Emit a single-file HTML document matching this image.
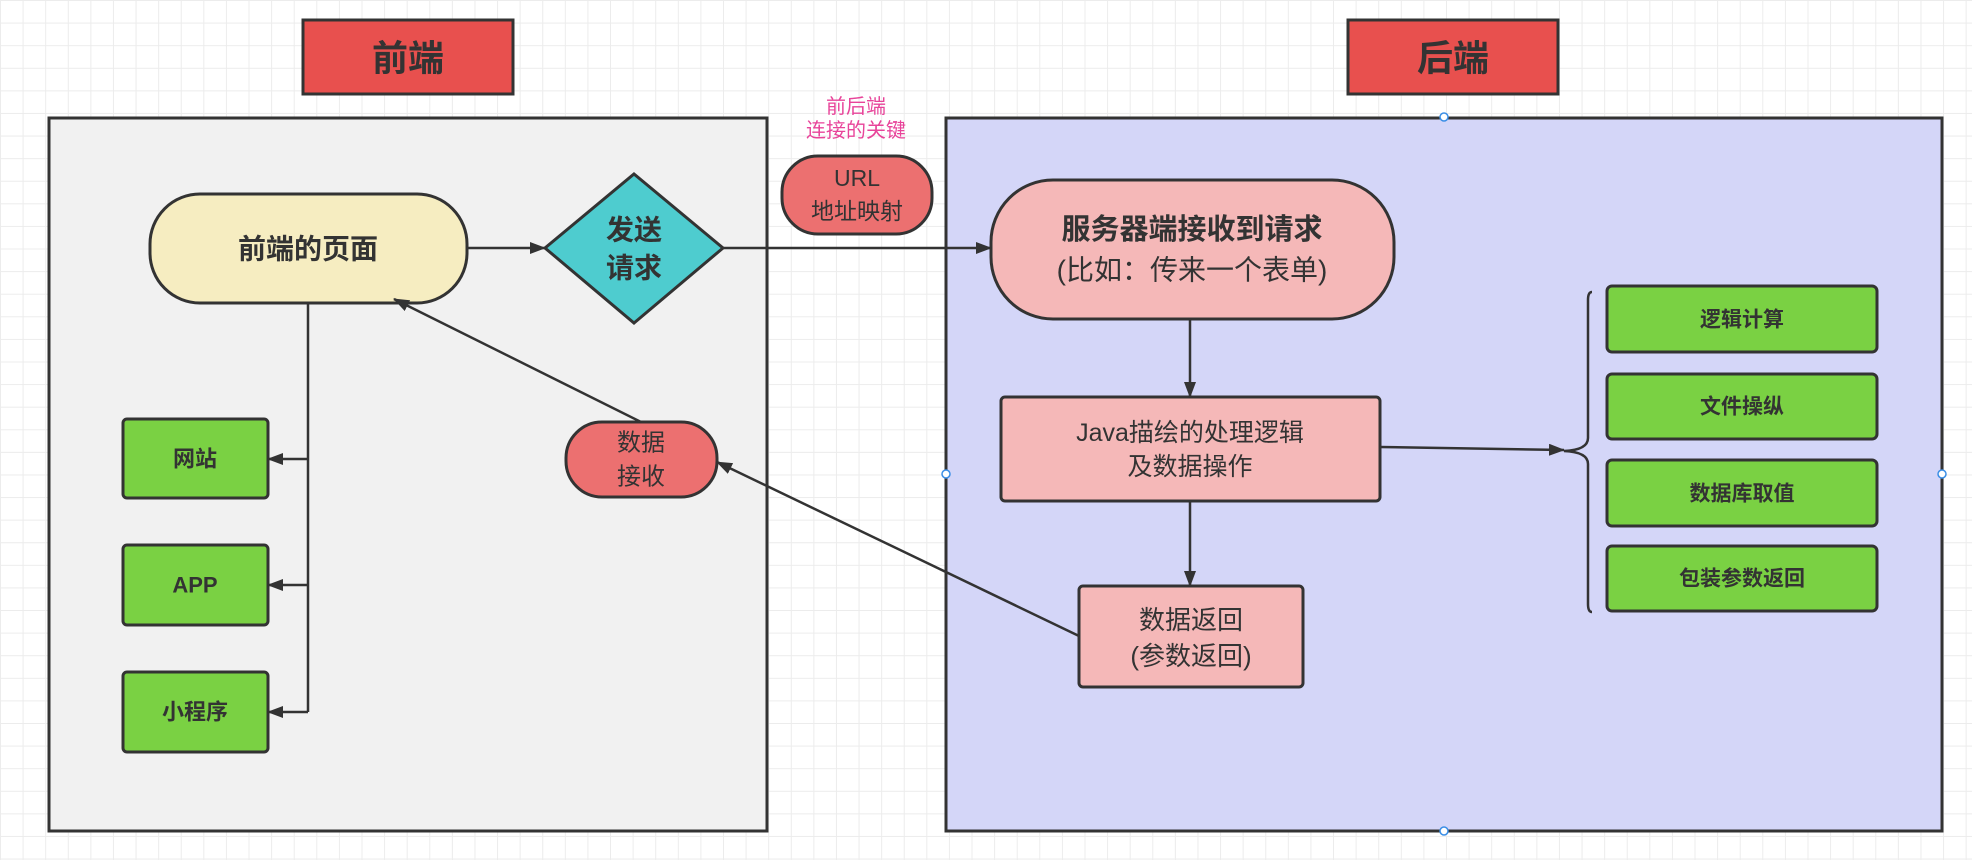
<!DOCTYPE html>
<html><head><meta charset="utf-8"><style>
html,body{margin:0;padding:0;}
body{width:1972px;height:860px;overflow:hidden;background:#fff;
background-image:linear-gradient(#ececec 1px,transparent 1px),linear-gradient(90deg,#ececec 1px,transparent 1px);
background-size:22.6px 22.6px;}
svg{position:absolute;left:0;top:0;}
text{font-family:"Liberation Sans","Noto Sans CJK SC",sans-serif;fill:#333;text-anchor:middle;dominant-baseline:central;}
.b{font-weight:bold;}
</style></head><body>
<svg width="1972" height="860" viewBox="0 0 1972 860">
<defs><marker id="a" markerWidth="16" markerHeight="12" refX="15" refY="6" orient="auto" markerUnits="userSpaceOnUse"><path d="M0,0 L16,6 L0,12 Z" fill="#333"/></marker></defs>
<g stroke="#333" stroke-width="3">
<rect x="303" y="20" width="210" height="74" fill="#e8504e"/>
<rect x="1348" y="20" width="210" height="74" fill="#e8504e"/>
<rect x="49" y="118" width="718" height="713" fill="#f1f1f1"/>
<rect x="946" y="118" width="996" height="713" fill="#d4d6f8"/>
<rect x="150" y="194" width="317" height="109" rx="50" fill="#f6edc1"/>
<polygon points="634,174 723,248 634,323 545,248" fill="#4ecccf"/>
<rect x="782" y="156" width="150" height="78" rx="36" fill="#ec7070"/>
<rect x="991" y="180" width="403" height="139" rx="62" fill="#f5b8b8"/>
<rect x="1001" y="397" width="379" height="104" rx="4" fill="#f5b8b8"/>
<rect x="1079" y="586" width="224" height="101" rx="4" fill="#f5b8b8"/>
<rect x="566" y="422" width="151" height="75" rx="36" fill="#ec7070"/>
<rect x="1607" y="286" width="270" height="66" rx="5" fill="#7ad143"/>
<rect x="1607" y="374" width="270" height="65" rx="5" fill="#7ad143"/>
<rect x="1607" y="460" width="270" height="66" rx="5" fill="#7ad143"/>
<rect x="1607" y="546" width="270" height="65" rx="5" fill="#7ad143"/>
<rect x="123" y="419" width="145" height="79" rx="4" fill="#7ad143"/>
<rect x="123" y="545" width="145" height="80" rx="4" fill="#7ad143"/>
<rect x="123" y="672" width="145" height="80" rx="4" fill="#7ad143"/>
</g>
<g stroke="#333" stroke-width="2.5" fill="none">
<line x1="467" y1="248" x2="545" y2="248" marker-end="url(#a)"/>
<line x1="723" y1="248" x2="991" y2="248" marker-end="url(#a)"/>
<line x1="1190" y1="319" x2="1190" y2="397" marker-end="url(#a)"/>
<line x1="1190" y1="501" x2="1190" y2="586" marker-end="url(#a)"/>
<line x1="1380" y1="447" x2="1564" y2="450" marker-end="url(#a)"/>
<path d="M1592,292 Q1588,292 1588,300 L1588,438 Q1588,450 1564,451 Q1588,452 1588,464 L1588,604 Q1588,612 1592,612"/>
<line x1="308" y1="303" x2="308" y2="712"/>
<line x1="308" y1="459" x2="268" y2="459" marker-end="url(#a)"/>
<line x1="308" y1="585" x2="268" y2="585" marker-end="url(#a)"/>
<line x1="308" y1="712" x2="268" y2="712" marker-end="url(#a)"/>
<line x1="641" y1="422" x2="394" y2="299" marker-end="url(#a)"/>
<line x1="1079" y1="636" x2="717" y2="462" marker-end="url(#a)"/>
</g>
<g fill="#fff" stroke="#3a8ee6" stroke-width="1.5">
<circle cx="1444" cy="117" r="4"/><circle cx="946" cy="474" r="4"/><circle cx="1942" cy="474" r="4"/><circle cx="1444" cy="831" r="4"/>
</g>
<text x="408" y="58" class="b" font-size="36">前端</text>
<text x="1453" y="58" class="b" font-size="36">后端</text>
<text x="856" y="107" font-size="20" style="fill:#e8449a">前后端</text>
<text x="856" y="131" font-size="20" style="fill:#e8449a">连接的关键</text>
<text x="857" y="178" font-size="23">URL</text>
<text x="857" y="211" font-size="23">地址映射</text>
<text x="308" y="249" class="b" font-size="28">前端的页面</text>
<text x="634" y="230" class="b" font-size="28">发送</text>
<text x="634" y="268" class="b" font-size="28">请求</text>
<text x="1192" y="230" class="b" font-size="29">服务器端接收到请求</text>
<text x="1192" y="270" font-size="28">(比如：传来一个表单)</text>
<text x="1190" y="433" font-size="25">Java描绘的处理逻辑</text>
<text x="1190" y="467" font-size="25">及数据操作</text>
<text x="1191" y="620" font-size="26">数据返回</text>
<text x="1191" y="656" font-size="26">(参数返回)</text>
<text x="641" y="443" font-size="24">数据</text>
<text x="641" y="477" font-size="24">接收</text>
<text x="1742" y="320" class="b" font-size="21">逻辑计算</text>
<text x="1742" y="407" class="b" font-size="21">文件操纵</text>
<text x="1742" y="494" class="b" font-size="21">数据库取值</text>
<text x="1742" y="579" class="b" font-size="21">包装参数返回</text>
<text x="195" y="459" class="b" font-size="22">网站</text>
<text x="195" y="585" class="b" font-size="22">APP</text>
<text x="195" y="712" class="b" font-size="22">小程序</text>
</svg>
</body></html>
